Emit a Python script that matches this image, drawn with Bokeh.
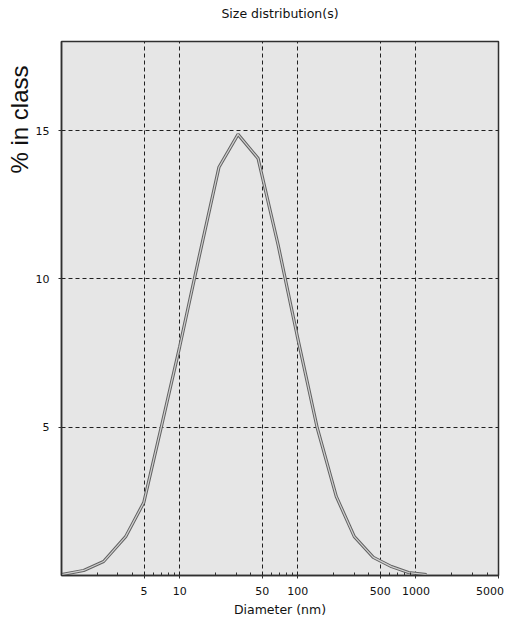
from bokeh.plotting import figure
from bokeh.models import FixedTicker, Range1d, Title, LogAxis
from bokeh.embed import file_html
from bokeh.resources import INLINE

# ---- data ----
diameter_nm = [1.0, 1.54, 2.27, 3.49, 4.97, 7.06, 10.0, 14.6, 21.5, 31.2,
               46.1, 68.2, 98.9, 146, 212, 301, 436, 621, 865, 1231]
percent_in_class = [0.03, 0.17, 0.47, 1.31, 2.46, 5.08, 7.71, 10.73, 13.76, 14.87,
                    14.06, 11.14, 8.08, 4.98, 2.66, 1.31, 0.61, 0.30, 0.10, 0.03]

x_major_ticks = [5, 10, 50, 100, 500, 1000, 5000]
x_grid_ticks = [5, 10, 50, 100, 500, 1000]
x_minor_ticks = [2, 3, 4, 6, 7, 8, 9, 20, 30, 40, 60, 70, 80, 90,
                 200, 300, 400, 600, 700, 800, 900, 2000, 3000, 4000]
y_ticks = [5, 10, 15]

title_text = "Size distribution(s)"
x_label = "Diameter (nm)"
y_label = "% in class"

FONT = "DejaVu Sans"

p = figure(width=507, height=619, x_axis_type="log",
           x_range=Range1d(1, 5000), y_range=Range1d(0, 18),
           output_backend="svg", toolbar_location=None,
           min_border_left=61, min_border_right=9,
           min_border_top=41, min_border_bottom=44)

p.background_fill_color = "#e6e6e6"
p.border_fill_color = "white"
p.outline_line_color = "#303030"
p.outline_line_width = 1.5
p.title.visible = False
p.title.standoff = 0

# bottom axis (grab before adding the top one)
xa = p.below[0]

# title drawn as the label of an empty top axis (precise placement)
top = LogAxis(ticker=FixedTicker(ticks=[], minor_ticks=[]),
              axis_line_color=None, major_tick_line_color=None,
              minor_tick_line_color=None, major_label_text_font_size="0px",
              axis_label=title_text, axis_label_standoff=21,
              axis_label_text_font=FONT, axis_label_text_font_size="12.5px",
              axis_label_text_font_style="normal",
              axis_label_text_color="#111111")
p.add_layout(top, "above")

# y label as a left title, pushed toward the top
p.add_layout(Title(text=y_label, align="right", offset=24, standoff=0,
                   text_font="Liberation Sans", text_font_size="24px",
                   text_font_style="normal", text_color="#111111"), "left")

# x axis
xa.ticker = FixedTicker(ticks=x_major_ticks, minor_ticks=x_minor_ticks)
xa.major_label_overrides = {5000: "5000 "}
xa.major_label_text_font = FONT
xa.major_label_text_font_size = "11px"
xa.major_label_text_color = "#111111"
xa.major_label_standoff = 6
xa.major_tick_in = 0
xa.major_tick_out = 3
xa.minor_tick_in = 3
xa.minor_tick_out = 0
xa.axis_line_color = "#303030"
xa.axis_line_width = 1.5
xa.major_tick_line_color = "#303030"
xa.minor_tick_line_color = "#303030"
xa.axis_label = x_label
xa.axis_label_text_font = FONT
xa.axis_label_text_font_size = "12.5px"
xa.axis_label_text_font_style = "normal"
xa.axis_label_text_color = "#111111"
xa.axis_label_standoff = 1

# y axis
ya = p.left[0]
ya.ticker = FixedTicker(ticks=y_ticks, minor_ticks=[])
ya.major_label_text_font = FONT
ya.major_label_text_font_size = "11px"
ya.major_label_text_color = "#111111"
ya.major_label_standoff = 9
ya.major_tick_in = 0
ya.major_tick_out = 3
ya.minor_tick_line_color = None
ya.axis_line_color = "#303030"
ya.axis_line_width = 1.5
ya.major_tick_line_color = "#303030"

# grid
p.xgrid.ticker = FixedTicker(ticks=x_grid_ticks)
p.ygrid.ticker = FixedTicker(ticks=y_ticks)
for g in (p.xgrid[0], p.ygrid[0]):
    g.grid_line_color = "#202020"
    g.grid_line_dash = "4 3"
    g.grid_line_width = 1

# curve (double-stroke look)
p.line(diameter_nm, percent_in_class, line_color="#626262", line_width=3.2)
p.line(diameter_nm, percent_in_class, line_color="#d0d0d0", line_width=1.2)

open("out.html", "w").write(file_html(p, INLINE))
